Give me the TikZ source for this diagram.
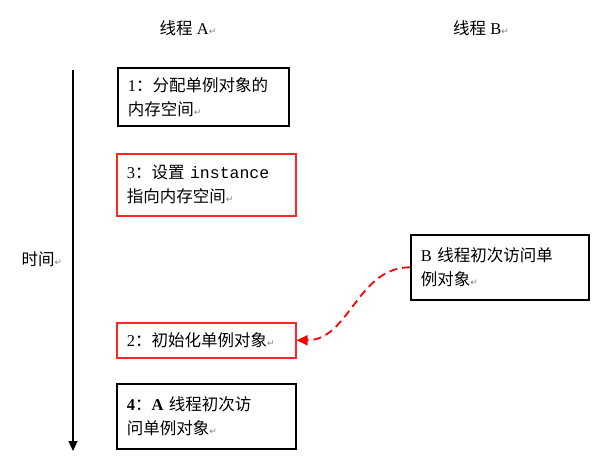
\documentclass[tikz,border=0pt]{standalone}
\usepackage{fontspec}
\usetikzlibrary{arrows.meta}
\setmainfont{Liberation Serif}
\setmonofont{Liberation Mono}
\newfontfamily\cjk{Noto Sans CJK SC}
\newfontfamily\symfont{DejaVu Sans}
\newcommand{\zh}[1]{{\cjk #1}}
\newcommand{\pmark}{{\color{gray}\fontsize{9}{9}\selectfont\symfont ↵}}

\begin{document}
\begin{tikzpicture}[x=1pt,y=-1pt,
  every node/.style={font=\fontsize{16.5}{24}\selectfont},
  taskbox/.style={draw, line width=1.6pt, anchor=north west, align=left, inner xsep=10pt, inner ysep=0pt},
  redbox/.style={taskbox, draw=red!85!white}]
\useasboundingbox (0,0) rectangle (613,460);
\node (heada) at (188,28) {\zh{线程} A\pmark};
\node (headb) at (481,28) {\zh{线程} B\pmark};
\coordinate (ttop) at (73,70);
\coordinate (tbot) at (73,451);
\draw [line width=1.1pt, -{Triangle[length=10pt,width=9pt]}] (ttop) -- (tbot);
\node (timelbl) at (42,259) {\zh{时间}\pmark};
\node [taskbox, text width=151pt, minimum height=58pt] (alloc) at (117,67) {1\zh{：分配单例对象的}\\\zh{内存空间}\pmark};
\node [redbox, text width=159pt, minimum height=62pt] (setref) at (116,153) {3\zh{：设置} \texttt{instance}\\\zh{指向内存空间}\pmark};
\node [taskbox, text width=158pt, minimum height=65pt] (bfirst) at (410,234) {B \zh{线程初次访问单}\\\zh{例对象}\pmark};
\node [redbox, text width=159pt, minimum height=35pt] (init) at (116,322) {2\zh{：初始化单例对象}\pmark};
\node [taskbox, text width=159pt, minimum height=65pt] (afirst) at (116,383) {\textbf{4}\zh{：}\textbf{A} \zh{线程初次访}\\\zh{问单例对象}\pmark};
% B reads before init
\draw [red, line width=1.8pt, dash pattern=on 8pt off 5pt, -{Triangle[length=11pt,width=10pt]}] (bfirst.west) to[out=180,in=0] (init.east);
\end{tikzpicture}
\end{document}
